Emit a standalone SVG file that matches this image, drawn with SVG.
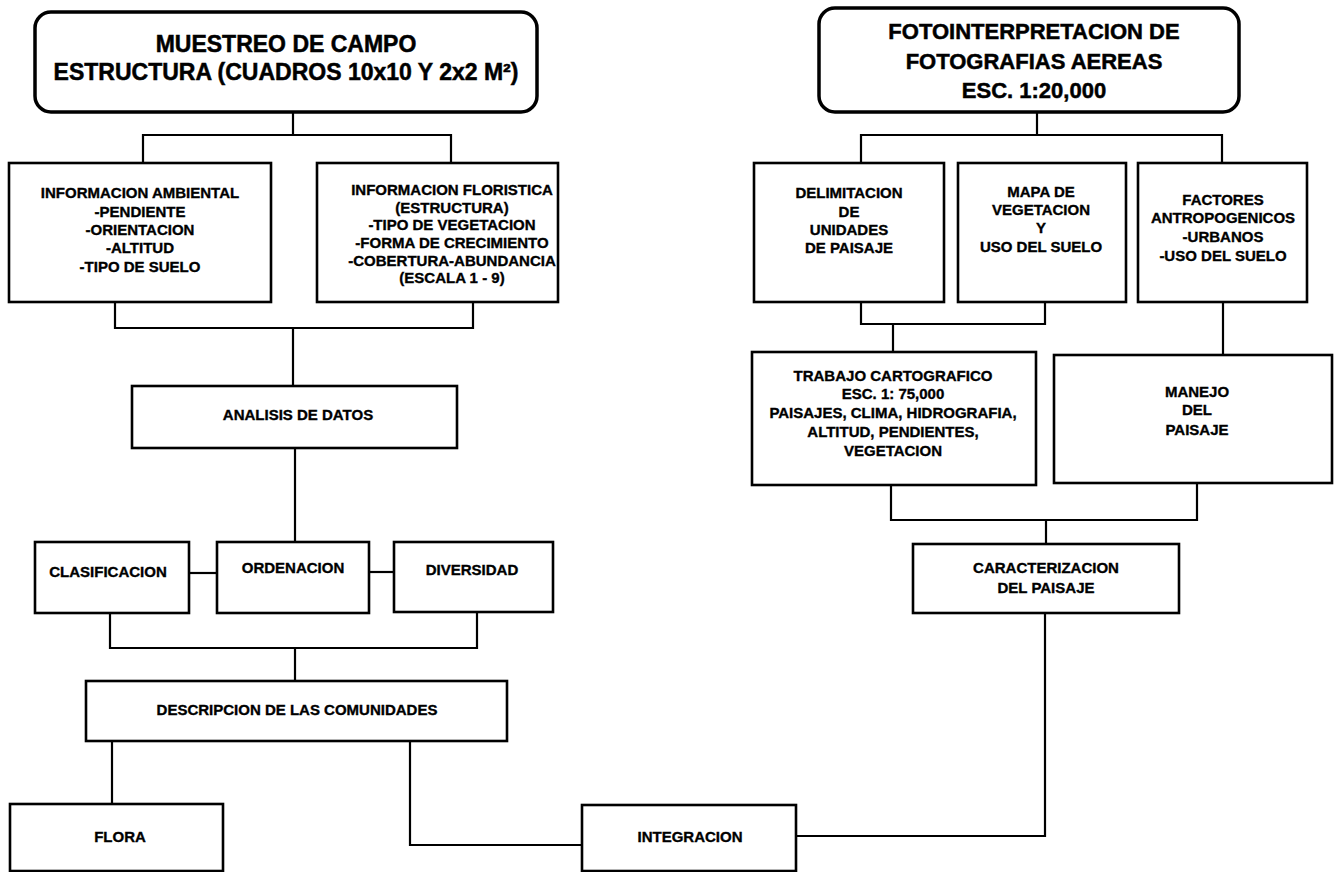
<svg xmlns="http://www.w3.org/2000/svg" width="1334" height="872" viewBox="0 0 1334 872">
<style>
.bg{fill:#fff}
.box{fill:#fff;stroke:#000;stroke-width:2.6}
.title{fill:#fff;stroke:#000;stroke-width:3.5}
.c{fill:none;stroke:#000;stroke-width:2.2}
text{font-family:"Liberation Sans",Arial,Helvetica,sans-serif;font-weight:bold;fill:#000;text-anchor:middle;stroke:#000;stroke-width:0.35}
.t{font-size:15px}
.h{font-size:23px;stroke-width:0.5}
.h2{font-size:22px;stroke-width:0.5}
</style>
<rect class="bg" x="0" y="0" width="1334" height="872"/>
<g id="connectors">
<polyline class="c" points="293,112 293,135"/>
<polyline class="c" points="143,163 143,135 451,135 451,163"/>
<polyline class="c" points="115,302 115,328 473,328 473,302"/>
<polyline class="c" points="293,328 293,386"/>
<polyline class="c" points="295,448 295,542"/>
<polyline class="c" points="189,573 217,573"/>
<polyline class="c" points="369,572 394,572"/>
<polyline class="c" points="110,613 110,648 477,648 477,612"/>
<polyline class="c" points="295,648 295,681"/>
<polyline class="c" points="112,741 112,804"/>
<polyline class="c" points="410,741 410,845 582,845"/>
<polyline class="c" points="796,836 1045,836 1045,613"/>
<polyline class="c" points="1037,112 1037,135"/>
<polyline class="c" points="861,163 861,135 1222,135 1222,163"/>
<polyline class="c" points="861,302 861,324 1045,324 1045,302"/>
<polyline class="c" points="893,324 893,352"/>
<polyline class="c" points="1223,302 1223,355"/>
<polyline class="c" points="891,485 891,520 1197,520 1197,483"/>
<polyline class="c" points="1046,520 1046,544"/>
</g>
<g id="n-muestreo">
<rect class="title" x="35" y="12" width="502" height="100" rx="16"/>
<text class="h" x="286" y="52">MUESTREO DE CAMPO</text>
<text class="h" x="286" y="80">ESTRUCTURA (CUADROS 10x10 Y 2x2 M²)</text>
</g>
<g id="n-ambiental">
<rect class="box" x="9" y="163" width="262" height="139"/>
<text class="t" x="140" y="198">INFORMACION AMBIENTAL</text>
<text class="t" x="140" y="217">-PENDIENTE</text>
<text class="t" x="140" y="235">-ORIENTACION</text>
<text class="t" x="140" y="253">-ALTITUD</text>
<text class="t" x="140" y="272">-TIPO DE SUELO</text>
</g>
<g id="n-floristica">
<rect class="box" x="317" y="163" width="241" height="139"/>
<text class="t" x="452" y="195">INFORMACION FLORISTICA</text>
<text class="t" x="452" y="213">(ESTRUCTURA)</text>
<text class="t" x="452" y="230">-TIPO DE VEGETACION</text>
<text class="t" x="452" y="248">-FORMA DE CRECIMIENTO</text>
<text class="t" x="452" y="266">-COBERTURA-ABUNDANCIA</text>
<text class="t" x="452" y="283">(ESCALA 1 - 9)</text>
</g>
<g id="n-analisis">
<rect class="box" x="132" y="386" width="325" height="62"/>
<text class="t" x="298" y="420">ANALISIS DE DATOS</text>
</g>
<g id="n-clasificacion">
<rect class="box" x="35" y="542" width="154" height="71"/>
<text class="t" x="108" y="577">CLASIFICACION</text>
</g>
<g id="n-ordenacion">
<rect class="box" x="217" y="542" width="152" height="71"/>
<text class="t" x="293" y="573">ORDENACION</text>
</g>
<g id="n-diversidad">
<rect class="box" x="394" y="542" width="159" height="70"/>
<text class="t" x="472" y="575">DIVERSIDAD</text>
</g>
<g id="n-descripcion">
<rect class="box" x="86" y="681" width="421" height="60"/>
<text class="t" x="297" y="715">DESCRIPCION DE LAS COMUNIDADES</text>
</g>
<g id="n-flora">
<rect class="box" x="10" y="804" width="213" height="67"/>
<text class="t" x="120" y="842">FLORA</text>
</g>
<g id="n-integracion">
<rect class="box" x="582" y="805" width="214" height="66"/>
<text class="t" x="690" y="842">INTEGRACION</text>
</g>
<g id="n-fotointerpretacion">
<rect class="title" x="819" y="8" width="420" height="104" rx="16"/>
<text class="h2" x="1034" y="39">FOTOINTERPRETACION DE</text>
<text class="h2" x="1034" y="69">FOTOGRAFIAS AEREAS</text>
<text class="h2" x="1034" y="98">ESC. 1:20,000</text>
</g>
<g id="n-delimitacion">
<rect class="box" x="754" y="163" width="190" height="139"/>
<text class="t" x="849" y="198">DELIMITACION</text>
<text class="t" x="849" y="217">DE</text>
<text class="t" x="849" y="235">UNIDADES</text>
<text class="t" x="849" y="253">DE PAISAJE</text>
</g>
<g id="n-mapa">
<rect class="box" x="958" y="163" width="168" height="139"/>
<text class="t" x="1041" y="197">MAPA DE</text>
<text class="t" x="1041" y="215">VEGETACION</text>
<text class="t" x="1041" y="233">Y</text>
<text class="t" x="1041" y="252">USO DEL SUELO</text>
</g>
<g id="n-factores">
<rect class="box" x="1138" y="163" width="169" height="139"/>
<text class="t" x="1223" y="205">FACTORES</text>
<text class="t" x="1223" y="223">ANTROPOGENICOS</text>
<text class="t" x="1223" y="242">-URBANOS</text>
<text class="t" x="1223" y="261">-USO DEL SUELO</text>
</g>
<g id="n-trabajo">
<rect class="box" x="752" y="352" width="284" height="133"/>
<text class="t" x="893" y="381">TRABAJO CARTOGRAFICO</text>
<text class="t" x="893" y="399">ESC. 1: 75,000</text>
<text class="t" x="893" y="418">PAISAJES, CLIMA, HIDROGRAFIA,</text>
<text class="t" x="893" y="437">ALTITUD, PENDIENTES,</text>
<text class="t" x="893" y="456">VEGETACION</text>
</g>
<g id="n-manejo">
<rect class="box" x="1054" y="355" width="278" height="128"/>
<text class="t" x="1197" y="397">MANEJO</text>
<text class="t" x="1197" y="415">DEL</text>
<text class="t" x="1197" y="435">PAISAJE</text>
</g>
<g id="n-caracterizacion">
<rect class="box" x="913" y="544" width="266" height="69"/>
<text class="t" x="1046" y="573">CARACTERIZACION</text>
<text class="t" x="1046" y="593">DEL PAISAJE</text>
</g>
</svg>
